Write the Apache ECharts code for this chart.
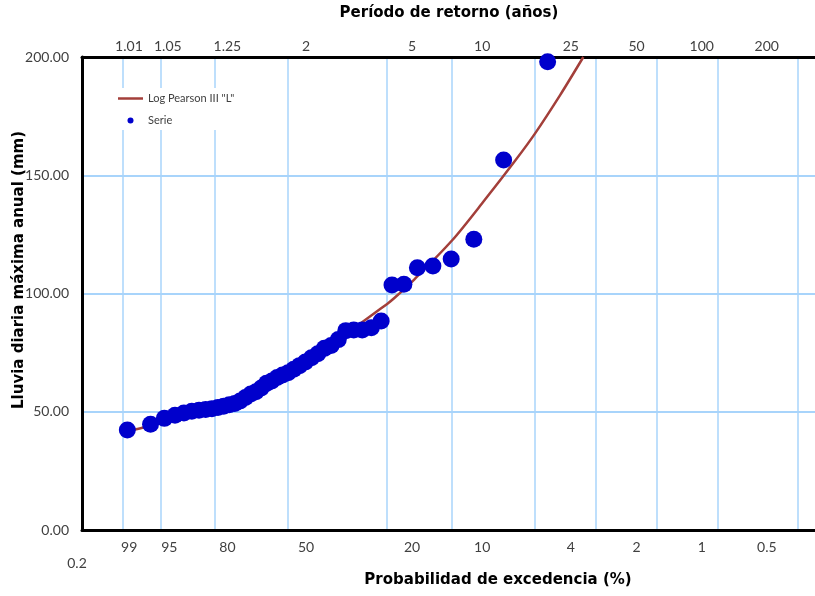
<!DOCTYPE html>
<html><head><meta charset="utf-8">
<script src="https://cdn.jsdelivr.net/npm/echarts@6/dist/echarts.min.js"></script>
<style>html,body{margin:0;padding:0;background:#fff}#c{width:815px;height:596px}</style>
</head><body><div id="c"></div>
<script>
// Gridlines: exceedance probability (%) and their labels
const exceedanceGrid = [99, 95, 80, 50, 20, 10, 4, 2, 1, 0.5, 0.2];
const exceedanceLabels = ['99', '95', '80', '50', '20', '10', '4', '2', '1', '0.5', '0.2'];
// Top axis: return period (years)
const returnPeriods = [1.01, 1.05, 1.25, 2, 5, 10, 25, 50, 100, 200];
const returnLabels = ['1.01', '1.05', '1.25', '2', '5', '10', '25', '50', '100', '200'];
// Observed series: exceedance probability (%) and rainfall (mm)
const serieProb = [3.46, 5.67, 7.89, 10.11, 12.32, 14.54, 16.76, 18.97, 21.19, 23.40,
  25.62, 27.84, 30.05, 32.27, 34.49, 36.70, 38.92, 41.13, 43.35, 45.57,
  47.78, 50.00, 52.22, 54.43, 56.65, 58.87, 61.08, 63.30, 65.51, 67.73,
  69.95, 72.16, 74.38, 76.60, 78.81, 81.03, 83.24, 85.46, 87.68, 89.89,
  92.11, 94.33, 96.54, 98.76];
const serieValue = [198.0, 156.4, 122.9, 114.6, 111.6, 110.9, 103.9, 103.6, 88.4, 85.5,
  84.6, 84.6, 84.3, 80.5, 78.0, 76.8, 74.5, 72.8, 71.0, 69.5,
  68.0, 66.5, 65.5, 64.5, 63.0, 62.0, 60.0, 58.5, 57.5, 56.0,
  54.5, 53.5, 53.0, 52.3, 51.8, 51.3, 51.0, 50.6, 50.2, 49.5,
  48.5, 47.2, 44.7, 42.3];
// Log Pearson III "L" fitted curve: exceedance probability (%) and rainfall (mm)
const curveProb = [99, 98, 95, 90, 80, 70, 60, 50, 40, 30, 20, 18.4, 15, 10, 7, 5, 4, 3, 2.31];
const curveValue = [41.8, 42.7, 45.5, 48.5, 52.5, 57.5, 63.0, 68.5, 75.0, 83.0, 95.5, 98.3, 106.0, 122.5, 139.5, 156.0, 167.5, 184.0, 200.0];

// Gumbel reduced variate for an exceedance probability in %
const g = p => -Math.log(-Math.log(1 - p / 100));
// label placement (labels sit slightly right of their gridlines, as in the source)
const labelPos = v => v * 1.073 + 0.18;

const gridVals = exceedanceGrid.map(g);
const botLabelVals = gridVals.slice(0, 10).map(labelPos);
const botMap = {};
botLabelVals.forEach((v, i) => { botMap[v.toFixed(4)] = exceedanceLabels[i]; });
const topLabelVals = returnPeriods.map(t => labelPos(g(100 / t)));
const topMap = {};
topLabelVals.forEach((v, i) => { topMap[v.toFixed(4)] = returnLabels[i]; });

const FONT = 'Lato';
const TFONT = 'bold 15px "DejaVu Sans"';
const chart = echarts.init(document.getElementById('c'), null, {renderer: 'canvas'});
chart.setOption({
  backgroundColor: '#fff',
  animation: false,
  grid: {left: 82, right: 0, top: 57, bottom: 66, containLabel: false},
  legend: {
    left: 110, top: 88, orient: 'vertical', padding: [5, 10, 4, 8],
    backgroundColor: '#fff', itemWidth: 25, itemHeight: 6, itemGap: 11,
    textStyle: {fontFamily: FONT, fontSize: 11, color: '#404040'},
    data: [
      {name: 'Log Pearson III "L"', icon: 'path://M0,0L10,0L10,1L0,1Z', itemStyle: {color: '#A33F3A'}},
      {name: 'Serie', icon: 'circle', itemStyle: {color: '#0000CC'}}
    ]
  },
  xAxis: [
    {
      type: 'value', position: 'bottom', min: -2, max: 6.416,
      axisLine: {show: true, onZero: false, lineStyle: {color: '#000', width: 3}},
      axisTick: {show: false, customValues: gridVals},
      splitLine: {show: true, lineStyle: {color: '#A8D4FB', width: 1.5}},
      axisLabel: {
        customValues: botLabelVals, margin: 10,
        fontFamily: FONT, fontSize: 14, color: '#404040',
        formatter: v => botMap[v.toFixed(4)] || ''
      }
    },
    {
      type: 'value', position: 'top', min: -2, max: 6.416,
      axisLine: {show: true, onZero: false, lineStyle: {color: '#000', width: 3}},
      axisTick: {show: false},
      splitLine: {show: false},
      axisLabel: {
        customValues: topLabelVals, margin: 4,
        fontFamily: FONT, fontSize: 14, color: '#404040',
        formatter: v => topMap[v.toFixed(4)] || ''
      }
    }
  ],
  yAxis: {
    type: 'value', min: 0, max: 200, interval: 50,
    axisLine: {show: true, onZero: false, lineStyle: {color: '#000', width: 3}},
    axisTick: {show: false},
    splitLine: {show: true, lineStyle: {color: '#A8D4FB', width: 2}},
    axisLabel: {margin: 13, fontFamily: FONT, fontSize: 14, color: '#404040', formatter: v => v.toFixed(2)}
  },
  series: [
    {
      name: 'Log Pearson III "L"', type: 'line', xAxisIndex: 0, smooth: 0.3,
      symbol: 'none', lineStyle: {color: '#A33F3A', width: 2.5}, itemStyle: {color: '#A33F3A'},
      data: curveProb.map((p, i) => [g(p), curveValue[i]]), z: 2
    },
    {
      name: 'Serie', type: 'scatter', xAxisIndex: 0, symbolSize: 17,
      itemStyle: {color: '#0000CC', opacity: 1},
      data: serieProb.map((p, i) => [g(p), serieValue[i]]), z: 3
    }
  ],
  graphic: [
    {type: 'text', x: 449, y: 13, style: {text: 'Período de retorno (años)', font: TFONT, fill: '#000', textAlign: 'center', textVerticalAlign: 'middle'}},
    {type: 'text', x: 498, y: 580, style: {text: 'Probabilidad de excedencia (%)', font: TFONT, fill: '#000', textAlign: 'center', textVerticalAlign: 'middle'}},
    {type: 'text', x: 19, y: 270, rotation: Math.PI / 2, style: {text: 'Lluvia diaria máxima anual (mm)', font: TFONT, fill: '#000', textAlign: 'center', textVerticalAlign: 'middle'}},
    {type: 'text', x: 77, y: 563, style: {text: exceedanceLabels[10], font: '14px ' + FONT, fill: '#404040', textAlign: 'center', textVerticalAlign: 'middle'}}
  ]
});
</script>
</body></html>
